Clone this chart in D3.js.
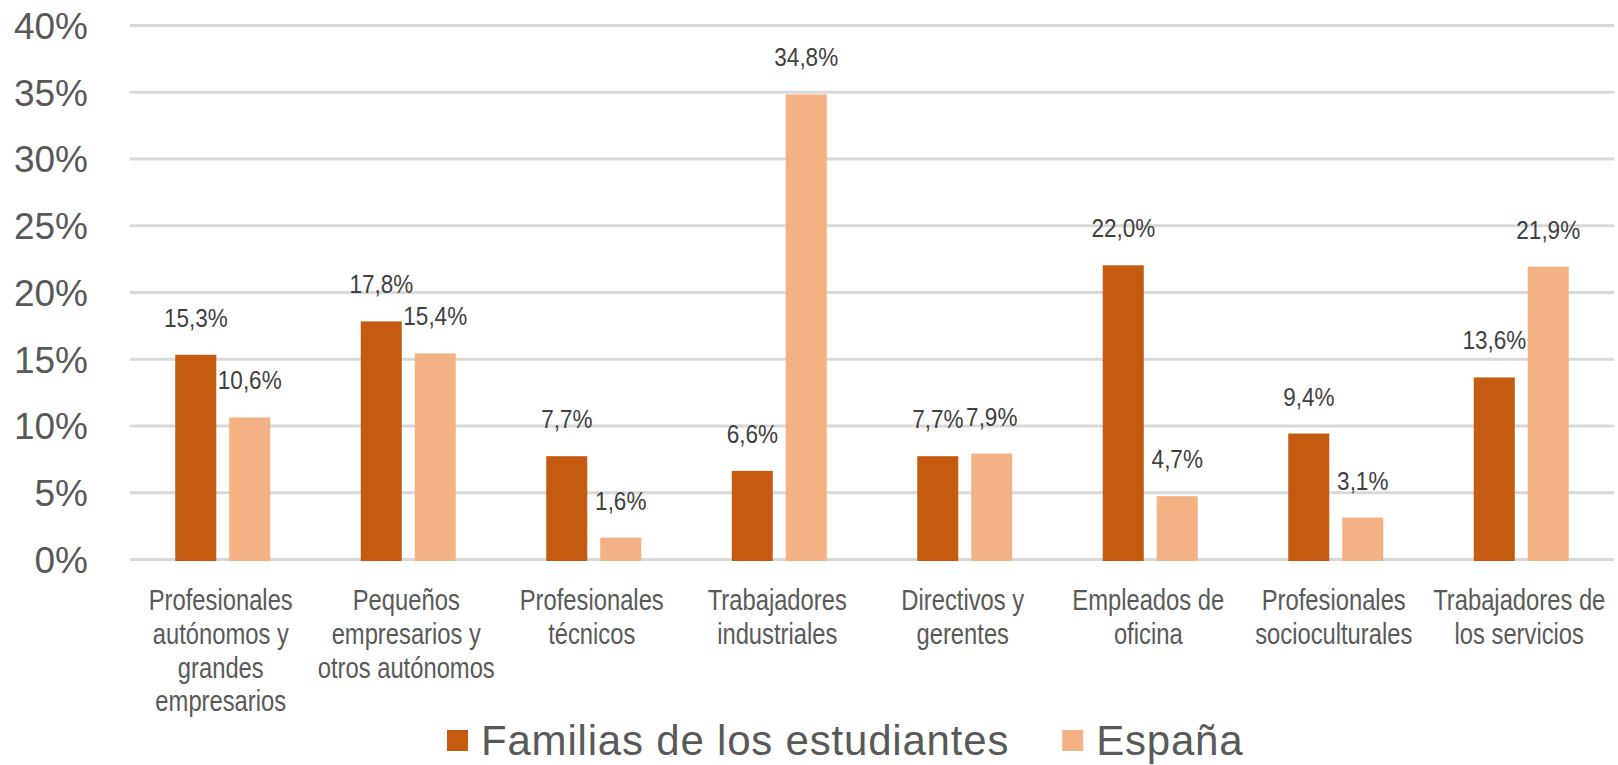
<!DOCTYPE html>
<html>
<head>
<meta charset="utf-8">
<script src="https://cdn.jsdelivr.net/npm/d3@7"></script>
<style>
  body { margin: 0; background: #fff; }
  svg { display: block; }
</style>
</head>
<body>
<div id="chart"></div>
<script>
// chart data
const categories = [
  "Profesionales\nautónomos y\ngrandes\nempresarios",
  "Pequeños\nempresarios y\notros autónomos",
  "Profesionales\ntécnicos",
  "Trabajadores\nindustriales",
  "Directivos y\ngerentes",
  "Empleados de\noficina",
  "Profesionales\nsocioculturales",
  "Trabajadores de\nlos servicios"
];
const seriesNames = ["Familias de los estudiantes", "España"];
const familias = [15.3, 17.8, 7.7, 6.6, 7.7, 22.0, 9.4, 13.6];
const espana = [10.6, 15.4, 1.6, 34.8, 7.9, 4.7, 3.1, 21.9];
const yTicks = [0, 5, 10, 15, 20, 25, 30, 35, 40];

const width = 1618;
const height = 765;
const colors = ["#C55A11", "#F4B183"];
const font = "'Liberation Sans', Arial, sans-serif";
// no narrow font installed, so squeeze the regular one
const squeeze = 0.82;

const svg = d3.select("#chart").append("svg").attr("width", width).attr("height", height);

// scales
const x0 = d3.scaleBand().domain(categories).range([130, 1614]);
const x1 = d3.scaleBand().domain(seriesNames).range([-47.5, 47.5]).paddingInner(0.24);
const y = d3.scaleLinear().domain([0, 40]).range([559, 25]);

// y axis with gridlines
const yAxis = svg.append("g").attr("transform", "translate(130,0)")
  .call(d3.axisLeft(y).tickValues(yTicks).tickSize(-1484).tickPadding(42).tickFormat(d => d + "%"));
yAxis.select(".domain").remove();
yAxis.selectAll(".tick line").attr("stroke", "#D9D9D9").attr("stroke-width", 3);
yAxis.selectAll(".tick text").attr("fill", "#595959").style("font-family", font).style("font-size", "37px").attr("dy", "0.36em");

// bars
const data = categories.map((c, i) => ({ cat: c, values: [familias[i], espana[i]] }));
const groups = svg.selectAll(".group").data(data).enter().append("g")
  .attr("class", "group")
  .attr("transform", d => `translate(${x0(d.cat) + x0.bandwidth() / 2},0)`);

groups.selectAll("rect").data(d => d.values.map((v, j) => ({ name: seriesNames[j], v: v, j: j })))
  .enter().append("rect")
  .attr("x", d => x1(d.name))
  .attr("y", d => y(d.v))
  .attr("width", x1.bandwidth())
  .attr("height", d => y(0) - y(d.v) + 2)
  .attr("fill", d => colors[d.j]);

// data labels
const fmt = v => d3.format(".1f")(v).replace(".", ",") + "%";
groups.selectAll(".lbl").data(d => d.values.map((v, j) => ({ name: seriesNames[j], v: v })))
  .enter().append("text")
  .attr("class", "lbl")
  .attr("transform", d => `translate(${x1(d.name) + x1.bandwidth() / 2},${y(d.v) - 28}) scale(0.9,1)`)
  .attr("text-anchor", "middle")
  .attr("fill", "#404040")
  .style("font-family", font)
  .style("font-size", "25px")
  .text(d => fmt(d.v));

// category labels
const catText = svg.selectAll(".cat").data(categories).enter().append("text")
  .attr("class", "cat")
  .attr("transform", d => `translate(${x0(d) + x0.bandwidth() / 2 - 2},610) scale(${squeeze},1)`)
  .attr("text-anchor", "middle")
  .attr("fill", "#595959")
  .style("font-family", font)
  .style("font-size", "29px");
catText.selectAll("tspan").data(d => d.split("\n"))
  .enter().append("tspan")
  .attr("x", 0)
  .attr("y", (d, i) => i * 33.8)
  .text(d => d);

// legend
const legend = svg.append("g");
let lx = 447;
seriesNames.forEach((name, i) => {
  legend.append("rect").attr("x", lx).attr("y", 730).attr("width", 21).attr("height", 21).attr("fill", colors[i]);
  const t = legend.append("text").attr("x", lx + 34).attr("y", 755)
    .attr("fill", "#595959")
    .style("font-family", font)
    .style("font-size", "42px")
    .style("letter-spacing", "0.8px")
    .text(name);
  lx += 34 + t.node().getComputedTextLength() + 53;
});
</script>
</body>
</html>
